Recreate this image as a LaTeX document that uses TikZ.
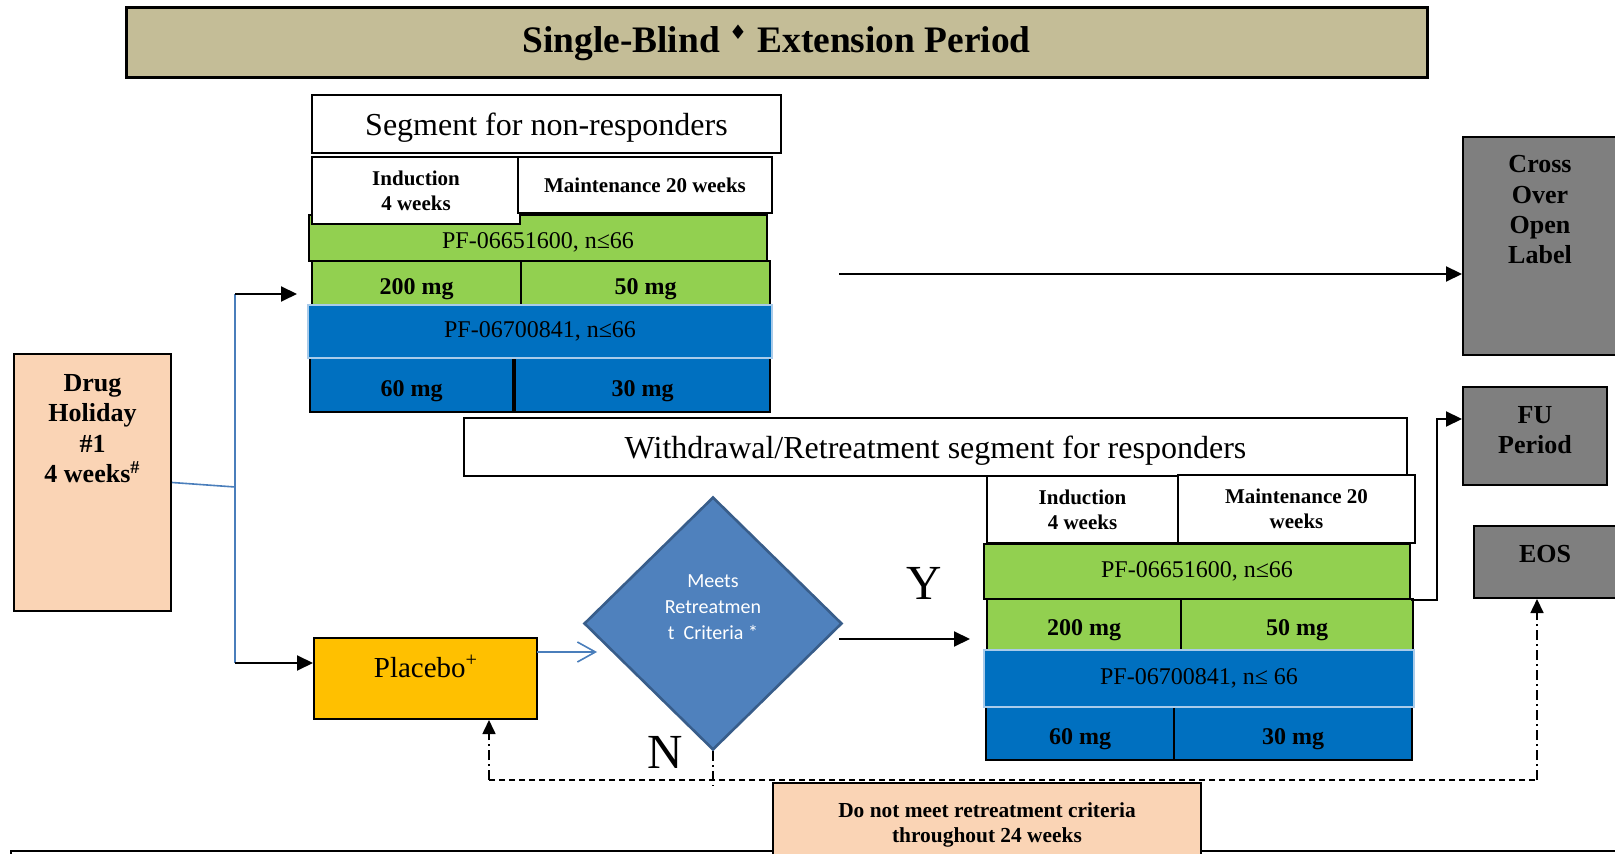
\documentclass[tikz,border=0pt]{standalone}
\usepackage{fontspec}
\setmainfont{Liberation Serif}
\newfontfamily\calfont{Carlito}
\newfontfamily\symfont{DejaVu Sans}
\usetikzlibrary{arrows.meta,fit,shapes.geometric}

\definecolor{tanbg}{HTML}{C4BD97}
\definecolor{peach}{HTML}{FAD4B5}
\definecolor{gold}{HTML}{FFC000}
\definecolor{lgreen}{HTML}{92D050}
\definecolor{dblue}{HTML}{0070C0}
\definecolor{lblue}{HTML}{A9CBEA}
\definecolor{steel}{HTML}{4F81BD}
\definecolor{steeldark}{HTML}{385D8A}
\definecolor{boxgray}{HTML}{7F7F7F}
\definecolor{linkblue}{HTML}{4A7EBB}

\tikzset{
  box/.style={draw,line width=1pt,inner sep=0pt},
  gbox/.style={box,fill=lgreen},
  bbox/.style={box,fill=dblue},
  greybox/.style={box,fill=boxgray},
  hdr/.style={font=\fontsize{10.5}{12.5}\selectfont\bfseries,align=center},
  seg/.style={font=\fontsize{16}{18}\selectfont,yshift=-2pt},
  pf/.style={font=\fontsize{12}{14}\selectfont},
  dose/.style={font=\fontsize{12}{14}\selectfont\bfseries,yshift=-3pt},
  side/.style={font=\fontsize{13}{15.2}\selectfont\bfseries,align=center,inner sep=0pt},
  yn/.style={font=\fontsize{24.5}{26}\selectfont,inner sep=0pt},
  arr/.style={-{Triangle[length=8pt,width=7.5pt]},line width=1pt},
  dashline/.style={line width=0.8pt,dash pattern=on 5pt off 2pt on 1pt off 2pt},
  dashflat/.style={line width=0.8pt,dash pattern=on 3pt off 2pt},
  dasharr/.style={dashline,-{Triangle[length=7pt,width=6.5pt]}},
  bluelink/.style={line width=0.8pt,draw=linkblue},
}

\begin{document}
\begin{tikzpicture}[x=0.5pt,y=-0.5pt]
\useasboundingbox (0,0) rectangle (1615,854);
\clip (0,0) rectangle (1615,854);

\node[box,line width=1.5pt,fill=tanbg,fit={(126,8) (1427,78)},
      label={[font=\fontsize{18.7}{22}\selectfont\bfseries]center:{Single-Blind \textsuperscript{\symfont\fontsize{10}{10}\selectfont ♦} Extension Period}}] (title) {};

\node[box,fill=white,fit={(312,95) (781,153)},label={[seg]center:Segment for non-responders}] (seg1) {};
\node[gbox,fit={(309,215) (767,261)},label={[pf,yshift=-2pt]center:{PF-06651600, n≤66}}] (g1pf) {};
\node[box,fill=white,fit={(312,157) (520,224)},label={[hdr]center:Induction\\4 weeks}] (ind1) {};
\node[box,fill=white,fit={(518,157) (772,213)},label={[hdr]center:Maintenance 20 weeks}] (mnt1) {};
\node[gbox,fit={(312,261) (521,305)},label={[dose]center:200 mg}] (g1a) {};
\node[gbox,fit={(521,261) (770,305)},label={[dose]center:50 mg}] (g1b) {};
\node[bbox,fit={(310,358) (513,412)},label={[dose]center:60 mg}] (b1a) {};
\node[bbox,fit={(515,358) (770,412)},label={[dose]center:30 mg}] (b1b) {};
\node[bbox,draw=lblue,fit={(308,305) (772,358)},label={[pf]center:{PF-06700841, n≤66}}] (b1pf) {};

\node[box,fill=peach,fit={(14,354) (171,611)}] (hol) {};
\node[side,anchor=north] (holtxt) at (92.5,374) {Drug\\Holiday\\\#1\\4 weeks\textsuperscript{\#}};

\node[box,fill=gold,fit={(314,638) (537,719)}] (plc) {};
\node[font=\fontsize{14.5}{16}\selectfont,anchor=base,inner sep=0pt] (plctxt) at (426,677) {Placebo\textsuperscript{+}};

\node[diamond,draw=steeldark,line width=1.3pt,fill=steel,inner sep=0pt,
      minimum width=129pt,minimum height=126.5pt] (dmd) at (713,623.5) {};
\node[font=\calfont\fontsize{10}{13}\selectfont,text=white,align=center,inner sep=0pt] (dmdtxt) at (713,607)
  {Meets\\Retreatmen\\t\ \ Criteria *};

\node[box,fill=white,fit={(464,418) (1407,476)},label={[seg]center:Withdrawal/Retreatment segment for responders}] (seg2) {};
\node[box,fill=white,fit={(987,476) (1178,543)},label={[hdr]center:Induction\\4 weeks}] (ind2) {};
\node[box,fill=white,fit={(1178,475) (1415,543)},label={[hdr]center:Maintenance 20\\weeks}] (mnt2) {};
\node[gbox,fit={(984,544) (1410,599)},label={[pf]center:{PF-06651600, n≤66}}] (g2pf) {};
\node[gbox,fit={(987,599) (1181,650)},label={[dose]center:200 mg}] (g2a) {};
\node[gbox,fit={(1181,599) (1413,650)},label={[dose]center:50 mg}] (g2b) {};
\node[bbox,fit={(986,707) (1174,760)},label={[dose]center:60 mg}] (b2a) {};
\node[bbox,fit={(1174,707) (1412,760)},label={[dose]center:30 mg}] (b2b) {};
\node[bbox,draw=lblue,fit={(984,650) (1414,707)},label={[pf]center:{PF-06700841, n≤ 66}}] (b2pf) {};

\node[greybox,fit={(1463,137) (1620,355)}] (cross) {};
\node[side,anchor=north] (crosstxt) at (1540,155) {Cross\\Over\\Open\\Label};
\node[greybox,fit={(1463,387) (1607,485)}] (fu) {};
\node[side,anchor=north] (futxt) at (1535,406) {FU\\Period};
\node[greybox,fit={(1474,526) (1620,598)}] (eos) {};
\node[side,anchor=north] (eostxt) at (1545,545) {EOS};

\node[yn,anchor=base] (ylab) at (924,599) {Y};
\node[yn,anchor=base] (nlab) at (665,768) {N};

\draw[line width=1pt] (11,851) rectangle (1640,900);
\node[box,fill=peach,fit={(773,783) (1201,880)}] (nomeet) {};
\node[hdr,font=\fontsize{10.7}{12.5}\selectfont\bfseries,anchor=north,inner sep=0pt] (nomeettxt) at (987,802)
  {Do not meet retreatment criteria\\throughout 24 weeks};

\coordinate (jn) at (235,487);
\coordinate (jtop) at (235,294);
\coordinate (jbot) at (235,663);
\coordinate (g1in) at (297,294);
\draw[bluelink] (hol.east) -- (jn);
\draw[bluelink] (jtop) -- (jbot);
\draw[arr] (jtop) -- (g1in);
\draw[arr] (jbot) -- (plc.west |- jbot);

\coordinate (plcout) at (537,652);
\coordinate (dmdin) at (597,652);
\draw[bluelink,-{Straight Barb[length=9pt,width=10pt]}] (plcout) -- (dmdin);

\coordinate (yout) at (839,639);
\coordinate (g2in) at (970,639);
\draw[arr] (yout) -- (g2in);

\coordinate (crossout) at (839,274);
\draw[arr] (crossout) -- (cross.west |- crossout);

\coordinate (fuknee) at (1437,419);
\draw[arr] (g2pf.south east) -| (fuknee) -- (fu.west |- fuknee);

\coordinate (dn) at (713,780);
\coordinate (dl) at (489,780);
\coordinate (dr) at (1537,780);
\draw[dashline] (dmd.south) -- (713,786);
\draw[dashflat] (dl) -- (dr);
\draw[dasharr] (dl) -- (dl |- plc.south);
\draw[dasharr] (dr) -- (dr |- eos.south);
\end{tikzpicture}
\end{document}
